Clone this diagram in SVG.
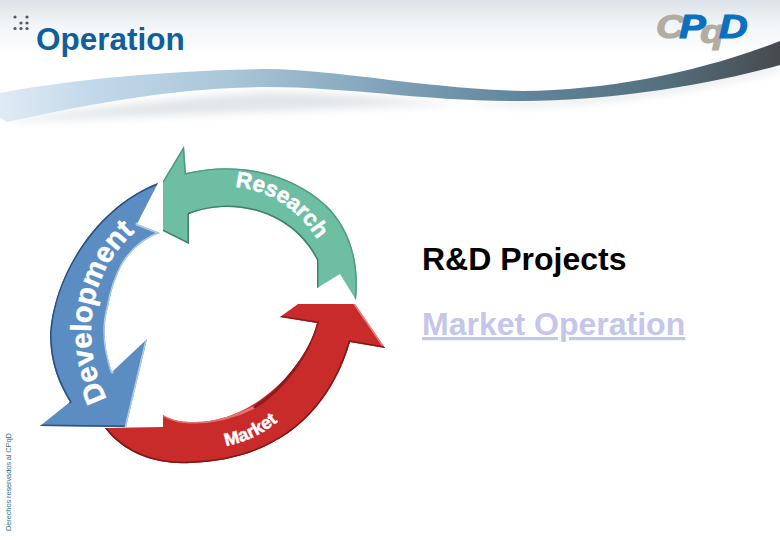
<svg xmlns="http://www.w3.org/2000/svg" width="780" height="540" viewBox="0 0 780 540">
<style>
.ttl{font-family:"Liberation Sans",Arial,sans-serif;font-weight:700}
.lab{font-family:"Liberation Sans",Arial,sans-serif;font-weight:700;fill:#fff;stroke:#fff;stroke-width:.5}
.item{font-family:"Liberation Sans",Arial,sans-serif;font-weight:700;font-size:32px}
.dot{fill:#4a5a68}
.edge{fill:none;stroke-width:3;stroke-linecap:round}
</style>
<defs>
<linearGradient id="top" x1="0" y1="0" x2="0" y2="1"><stop offset="0" stop-color="#dbe2e8"/><stop offset="0.45" stop-color="#f2f5f7"/><stop offset="1" stop-color="#fff"/></linearGradient>
<linearGradient id="sw" x1="0" y1="0" x2="780" y2="0" gradientUnits="userSpaceOnUse"><stop offset="0" stop-color="#dfebf5"/><stop offset="0.12" stop-color="#c2d8ea"/><stop offset="0.3" stop-color="#a9c5d8"/><stop offset="0.5" stop-color="#7fa1b8"/><stop offset="0.68" stop-color="#618399"/><stop offset="0.85" stop-color="#54707f"/><stop offset="1" stop-color="#474a4e"/></linearGradient>
<filter id="blur" x="-5%" y="-50%" width="110%" height="200%"><feGaussianBlur stdDeviation="4"/></filter>
<path id="pRes" d="M235,187 C268,190 298,208 319,242"/>
<path id="pDev" d="M107,399 C84,355 80,280 136,231"/>
<path id="pMar" d="M226,446 C246,442 265,433 281,419"/>
<path id="sG" d="M184,146 L163,181 L163,231 L189,244 L189,214 C230,198 290,208 317,260 L317,288 L340,274 L356,300 C360,262 350,228 326,205 C292,174 240,160 186,173Z"/>
<path id="sB" d="M158,183 C100,205 55,270 50,333 C50,365 60,385 70,402 L40,426 L126,427 L147,339 L112,372 C103,345 103,325 108,307 C112,285 118,272 123,263 C133,248 145,238 160,233 L137,224Z"/>
<path id="sR" d="M298,304 L280,317 L317,323 C305,370 250,425 190,422 C178,422 170,419 163,415 L163,427 L105,428 C125,455 160,465 190,463 C280,460 330,410 350,342 L385,348 L355,304Z"/>
<clipPath id="cG"><use href="#sG"/></clipPath>
<clipPath id="cB"><use href="#sB"/></clipPath>
<clipPath id="cR"><use href="#sR"/></clipPath>
</defs>
<rect width="780" height="56" fill="url(#top)"/>
<g id="swoosh">
<path d="M0,122 C90,108 170,98 267,92 C350,92 430,104 523,106 C600,105 690,92 780,70 V64 C690,85 600,98 523,101 L7,122Z" fill="#9aa6b0" opacity=".28" filter="url(#blur)"/>
<path d="M0,93 C55,82 160,70 267,69 C340,70 420,88 523,91 C610,90 700,72 780,41 V65 C700,87 610,100 523,101 C430,102 350,87 267,87 C170,88 90,104 7,122 L0,118Z" fill="url(#sw)"/>
</g>
<g id="title-dots">
<circle class="dot" cx="15" cy="17" r="1.6"/><circle class="dot" cx="27" cy="17" r="1.6"/><circle class="dot" cx="21" cy="23" r="1.6"/><circle class="dot" cx="27" cy="23" r="1.6"/><circle class="dot" cx="15" cy="28.500" r="1.6"/><circle class="dot" cx="21" cy="28.500" r="1.6"/><circle class="dot" cx="27" cy="28.500" r="1.6"/>
</g>
<text id="title" class="ttl" x="36" y="50" font-size="31.500" fill="#0f5f9c">Operation</text>
<text id="logo" transform="translate(656,38) scale(1.2,1)" font-family="'Liberation Sans',Arial,sans-serif" font-weight="700" font-style="italic" font-size="33" letter-spacing="-4.500" stroke-width="1.200"><tspan fill="#b3aca1" stroke="#b3aca1">C</tspan><tspan fill="#0a70c0" stroke="#0a70c0">P</tspan><tspan fill="#b3aca1" stroke="#b3aca1" dy="5">q</tspan><tspan fill="#0a70c0" stroke="#0a70c0" dy="-5">D</tspan></text>
<g id="red-arrow">
<use href="#sR" fill="#c92a2a"/>
<g clip-path="url(#cR)">
<path class="edge" stroke="#7d1818" d="M105,428 C125,455 160,465 190,463 C280,460 330,410 350,342"/>
<path class="edge" stroke="#ea7070" d="M163,415 C170,419 178,422 190,422 C215,423 235,417 255,407"/>
<path class="edge" stroke="#8c1b1b" d="M255,407 C285,388 308,355 317,323 L280,317"/>
<path class="edge" stroke="#ef8080" d="M355,304 L385,348"/>
<path class="edge" stroke="#7d1818" d="M350,342 L385,348"/>
</g>
<text class="lab" font-size="18"><textPath href="#pMar">Market</textPath></text>
</g>
<g id="green-arrow">
<use href="#sG" fill="#6dbea3"/>
<g clip-path="url(#cG)">
<path class="edge" stroke="#3f7f6c" d="M189,214 C230,198 290,208 317,260 L317,288"/>
<path class="edge" stroke="#4f9a83" d="M356,300 C360,262 350,228 326,205 C292,174 240,160 186,173 L184,146 L163,181"/>
<path class="edge" stroke="#3f7f6c" d="M163,231 L189,244 L189,214"/>
</g>
<text class="lab" font-size="22.500"><textPath href="#pRes">Research</textPath></text>
</g>
<g id="blue-arrow">
<use href="#sB" fill="#5b8cc2"/>
<g clip-path="url(#cB)">
<path class="edge" stroke="#2a5080" d="M158,183 C100,205 55,270 50,333 C50,365 60,385 70,402"/>
<path class="edge" stroke="#2a5080" d="M40,426 L126,427"/>
<path class="edge" stroke="#a9cdf0" d="M112,372 C103,345 103,325 108,307 C112,285 118,272 123,263 C133,248 145,238 160,233 L137,224"/>
<path class="edge" stroke="#a9cdf0" d="M126,427 L147,339"/>
</g>
<text class="lab" font-size="29"><textPath href="#pDev">Development</textPath></text>
</g>
<text id="item-rd" class="item" x="422" y="270" fill="#000">R&amp;D Projects</text>
<text id="item-mo" class="item" x="422" y="335" fill="#c4c6ea" text-decoration="underline">Market Operation</text>
<text id="copyright" font-family="'Liberation Sans',Arial,sans-serif" font-size="7.500" fill="#2f6f8f" textLength="98" transform="translate(11 531) rotate(-90)">Derechos reservados al CPqD</text>
</svg>
